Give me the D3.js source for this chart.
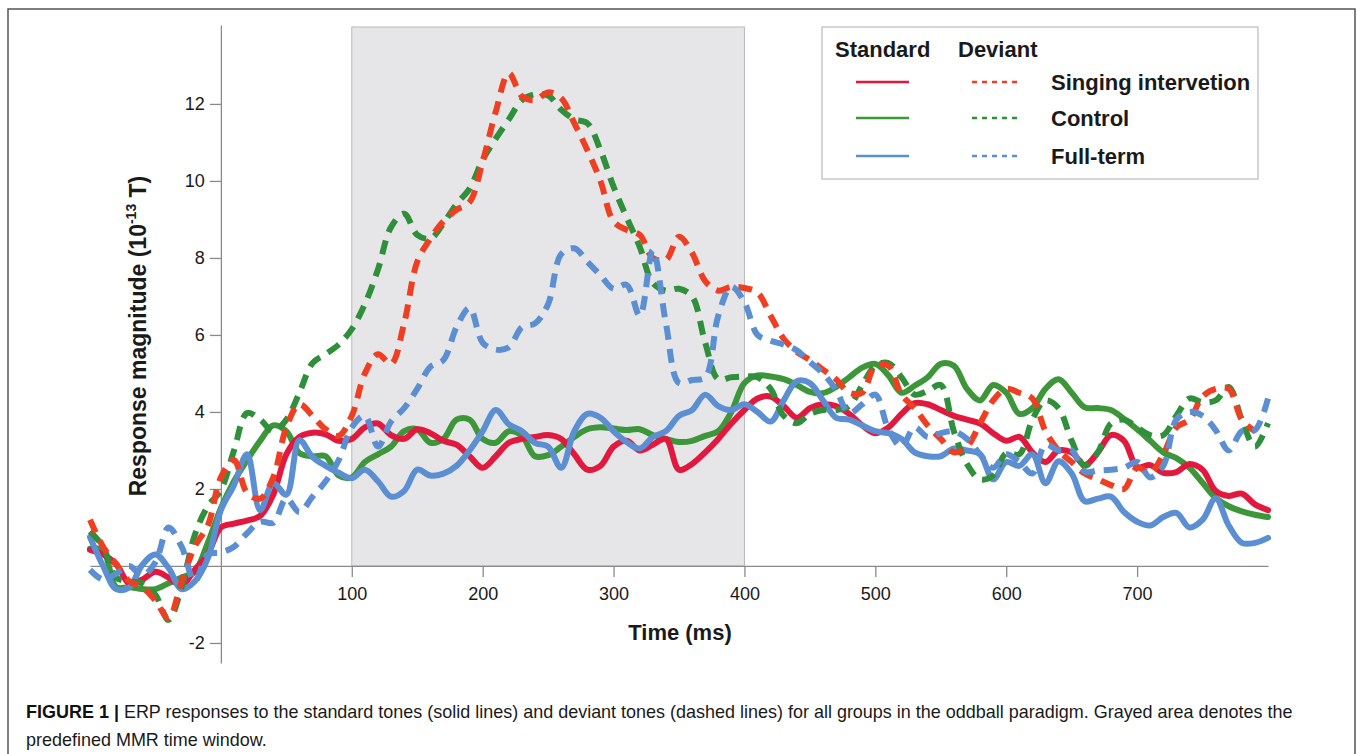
<!DOCTYPE html>
<html>
<head>
<meta charset="utf-8">
<script src="https://cdn.jsdelivr.net/npm/d3@7"></script>
<style>
  body { margin: 0; background: #fff; }
  text { font-family: Arial, "Liberation Sans", Helvetica, sans-serif; fill: #1a1a1a; }
</style>
</head>
<body>
<script>
const W = 1358, H = 754

// sample grid (ms)
const times = [-100,-90,-80,-70,-60,-50,-40,-30,-20,-10,
  0,10,20,30,40,50,60,70,80,90,
  100,110,120,130,140,150,160,170,180,190,
  200,210,220,230,240,250,260,270,280,290,
  300,310,320,330,340,350,360,370,380,390,
  400,410,420,430,440,450,460,470,480,490,
  500,510,520,530,540,550,560,570,580,590,
  600,610,620,630,640,650,660,670,680,690,
  700,710,720,730,740,750,760,770,780,790,
  800]

// standard tones (solid)
const stdSinging = [0.42,0.3,0.05,-0.45,-0.35,-0.15,-0.3,-0.5,-0.1,0.3,
  1.0,1.1,1.18,1.3,1.85,2.9,3.35,3.46,3.42,3.25,
  3.3,3.6,3.7,3.4,3.3,3.55,3.45,3.25,3.15,2.85,
  2.55,2.85,3.2,3.3,3.35,3.4,3.3,2.9,2.5,2.6,
  3.1,3.25,3.0,3.15,3.3,2.5,2.65,2.95,3.3,3.7,
  4.05,4.35,4.4,4.15,3.85,4.1,4.2,4.15,3.95,3.65,
  3.45,3.6,3.95,4.23,4.2,4.05,3.9,3.8,3.7,3.45,
  3.25,3.35,2.95,2.7,3.0,2.95,2.62,2.95,3.4,3.25,
  2.57,2.62,2.42,2.44,2.65,2.5,1.95,1.82,1.88,1.6,
  1.45]
const stdControl = [0.45,0.4,-0.55,-0.55,-0.6,-0.6,-0.45,-0.3,-0.15,0.6,
  1.5,2.2,2.75,3.25,3.65,3.5,2.93,2.85,2.85,2.35,
  2.3,2.7,2.9,3.1,3.5,3.55,3.2,3.3,3.8,3.8,
  3.3,3.2,3.5,3.38,2.85,2.88,3.1,3.35,3.55,3.6,
  3.57,3.53,3.55,3.4,3.3,3.22,3.25,3.38,3.5,4.0,
  4.75,4.95,4.92,4.85,4.7,4.52,4.49,4.65,4.9,5.15,
  5.25,4.95,4.5,4.68,4.9,5.25,5.2,4.6,4.3,4.7,
  4.5,3.95,4.1,4.6,4.85,4.5,4.12,4.1,4.05,3.82,
  3.55,3.25,2.95,2.8,2.55,2.16,1.77,1.55,1.42,1.33,
  1.27]
const stdFullTerm = [0.75,0.0,-0.6,-0.55,0.03,0.3,-0.05,-0.6,-0.4,0.2,
  1.45,2.1,2.9,1.45,2.15,1.85,3.27,2.83,2.6,2.42,
  2.28,2.5,2.2,1.8,1.95,2.5,2.35,2.4,2.6,3.0,
  3.5,4.05,3.68,3.5,3.2,3.1,2.55,3.5,3.95,3.85,
  3.5,3.22,3.05,3.35,3.5,3.9,4.05,4.45,4.15,4.05,
  4.2,4.0,3.75,4.3,4.8,4.75,4.3,3.85,3.8,3.65,
  3.5,3.45,3.3,2.95,2.85,2.85,3.05,3.0,2.9,2.25,
  2.7,2.6,2.9,2.15,2.72,2.4,1.68,1.75,1.8,1.4,
  1.15,1.05,1.27,1.38,1.0,1.2,1.75,1.05,0.6,0.6,
  0.73]

// deviant tones (dashed)
const devSinging = [1.2,0.5,0.05,-0.4,-0.55,-0.9,-1.35,-0.4,0.5,1.05,
  2.3,2.75,1.9,1.75,2.3,3.6,4.2,3.9,3.55,3.38,
  3.9,5.0,5.5,5.25,6.3,7.9,8.5,8.95,9.25,9.45,
  10.5,11.8,12.8,12.2,12.1,12.3,12.15,11.5,10.8,10.0,
  8.95,8.73,8.6,8.0,7.95,8.55,8.13,7.4,7.15,7.25,
  7.22,7.1,6.5,5.9,5.56,5.35,5.1,4.85,4.5,4.5,
  5.2,5.2,4.45,4.1,3.65,3.3,2.95,3.1,3.7,4.3,
  4.6,4.5,4.35,3.5,3.0,2.7,2.4,2.25,2.1,2.0,
  2.55,2.42,2.9,3.6,3.8,4.4,4.6,4.6,3.8,3.5,
  null]
const devControl = [0.9,0.5,-0.3,-0.4,-0.45,-0.75,-1.4,-0.55,0.8,1.55,
  1.97,3.0,3.97,3.8,3.5,3.8,4.5,5.27,5.5,5.75,
  6.15,6.8,7.7,8.8,9.15,8.6,8.5,8.9,9.4,9.8,
  10.55,11.1,11.6,12.1,12.25,12.22,11.85,11.6,11.5,10.8,
  9.85,9.05,8.29,7.35,7.15,7.2,7.0,5.8,4.85,4.9,
  4.92,4.9,4.6,3.9,3.71,3.95,4.05,4.05,4.15,4.7,
  5.2,5.27,4.9,4.45,4.55,4.7,3.5,2.65,2.25,2.35,
  2.93,2.9,3.8,4.3,4.1,3.25,2.6,2.95,3.7,3.8,
  3.6,3.4,3.4,3.9,4.35,4.25,4.3,4.65,3.8,3.1,
  3.71]
const devFullTerm = [-0.1,-0.35,-0.2,0.0,-0.25,0.1,1.0,0.5,-0.4,0.3,
  0.35,0.5,0.85,1.15,1.12,1.75,1.4,1.8,2.2,2.75,
  3.6,3.9,3.1,3.75,4.1,4.6,5.17,5.35,6.2,6.7,
  5.8,5.62,5.68,6.2,6.3,6.8,8.1,8.25,7.9,7.55,
  7.2,7.3,6.5,8.2,6.3,4.75,4.83,4.9,6.5,7.25,
  6.85,6.0,5.85,5.75,5.6,5.3,5.0,4.57,3.97,4.2,
  4.45,3.55,3.1,3.6,3.35,3.45,3.5,3.3,2.9,2.55,
  2.9,2.7,2.4,3.15,3.0,3.0,2.45,2.48,2.5,2.55,
  2.7,2.3,2.6,3.8,4.0,3.9,3.53,3.0,3.5,3.53,
  4.35]

const groups = ["Singing intervetion", "Control", "Full-term"]
const solidColors = ["#e2193f", "#3d9639", "#5b8fd1"]
const dashColors = ["#ef3f22", "#2f8f3a", "#5b8fd1"]
const xTicks = [100, 200, 300, 400, 500, 600, 700]
const yTicks = [-2, 2, 4, 6, 8, 10, 12]
const mmrWindow = [100, 400]

const svg = d3.select("body").append("svg")
    .attr("width", W)
    .attr("height", H)

// outer frame
svg.append("rect")
    .attr("x", 8).attr("y", 9)
    .attr("width", 1347).attr("height", 800)
    .attr("fill", "none")
    .attr("stroke", "#555")
    .attr("stroke-width", 1.5)

const x = d3.scaleLinear().domain([-100, 800]).range([90, 1268])
const y = d3.scaleLinear().domain([-2.52, 14.05]).range([663, 25])

// grey MMR window
svg.append("rect")
    .attr("x", x(mmrWindow[0]))
    .attr("y", 27)
    .attr("width", x(mmrWindow[1]) - x(mmrWindow[0]))
    .attr("height", y(0) - 27)
    .attr("fill", "#e6e6e8")
    .attr("stroke", "#b9b9bb")
    .attr("stroke-width", 1)

// axes
const xAxis = svg.append("g")
    .attr("transform", `translate(0,${y(0)})`)
    .call(d3.axisBottom(x).tickValues(xTicks).tickSize(11).tickSizeOuter(0).tickPadding(10))
const yAxis = svg.append("g")
    .attr("transform", `translate(${x(0)},0)`)
    .call(d3.axisLeft(y).tickValues(yTicks).tickSize(11).tickSizeOuter(0).tickPadding(5)
      .tickFormat(d => d < 0 ? "-" + Math.abs(d) : d))

;[xAxis, yAxis].forEach(g => {
  g.select(".domain").attr("stroke", "#8a8a8a").attr("stroke-width", 1.3)
  g.selectAll(".tick line").attr("stroke", "#8a8a8a").attr("stroke-width", 1.3)
  g.selectAll(".tick text")
    .attr("font-size", 18)
    .attr("font-family", "Arial, 'Liberation Sans', sans-serif")
    .attr("fill", "#1a1a1a")
})

// curves
const line = d3.line()
    .defined(d => d[1] != null)
    .x(d => x(d[0]))
    .y(d => y(d[1]))
    .curve(d3.curveCatmullRom.alpha(0.5))

// draw order: control, singing, full-term
const order = [1, 0, 2]
const solids = [stdSinging, stdControl, stdFullTerm]
const dashed = [devSinging, devControl, devFullTerm]

order.forEach(i => {
  svg.append("path")
    .attr("d", line(times.map((t, j) => [t, solids[i][j]])))
    .attr("fill", "none")
    .attr("stroke", solidColors[i])
    .attr("stroke-width", 6)
    .attr("stroke-linejoin", "round")
    .attr("stroke-linecap", "round")
})
order.forEach(i => {
  svg.append("path")
    .attr("d", line(times.map((t, j) => [t, dashed[i][j]])))
    .attr("fill", "none")
    .attr("stroke", dashColors[i])
    .attr("stroke-width", 6)
    .attr("stroke-dasharray", "14,9")
})

// axis titles
svg.append("text")
    .attr("x", 680).attr("y", 640)
    .attr("text-anchor", "middle")
    .attr("font-size", 22)
    .attr("font-weight", "bold")
    .text("Time (ms)")

const yt = svg.append("text")
    .attr("transform", "translate(146,336) rotate(-90)")
    .attr("text-anchor", "middle")
    .attr("font-size", 23)
    .attr("font-weight", "bold")
yt.append("tspan").text("Response magnitude (10")
yt.append("tspan").attr("dy", -10).attr("font-size", 14).text("-13")
yt.append("tspan").attr("dy", 10).text("  T)")

// legend
const lg = svg.append("g")
lg.append("rect")
    .attr("x", 822).attr("y", 27)
    .attr("width", 436).attr("height", 152)
    .attr("fill", "#fff")
    .attr("stroke", "#c8c8c8")
    .attr("stroke-width", 1.5)
lg.append("text").attr("x", 835).attr("y", 57)
    .attr("font-size", 22).attr("font-weight", "bold").text("Standard")
lg.append("text").attr("x", 958).attr("y", 57)
    .attr("font-size", 22).attr("font-weight", "bold").text("Deviant")
const rowY = [82, 118, 156]
groups.forEach((g, i) => {
  lg.append("line")
    .attr("x1", 856).attr("x2", 909)
    .attr("y1", rowY[i]).attr("y2", rowY[i])
    .attr("stroke", solidColors[i]).attr("stroke-width", 2.5)
  lg.append("line")
    .attr("x1", 972).attr("x2", 1022)
    .attr("y1", rowY[i]).attr("y2", rowY[i])
    .attr("stroke", dashColors[i]).attr("stroke-width", 2.5)
    .attr("stroke-dasharray", "5,5")
  lg.append("text")
    .attr("x", 1051).attr("y", rowY[i] + 8)
    .attr("font-size", 22).attr("font-weight", "bold")
    .text(g)
})

// caption, squeezed horizontally like a condensed face
const c1 = svg.append("text")
    .attr("font-size", 17.5)
    .attr("fill", "#222")
c1.append("tspan").attr("font-weight", "bold").attr("fill", "#111").text("FIGURE 1 | ")
c1.append("tspan").text("ERP responses to the standard tones (solid lines) and deviant tones (dashed lines) for all groups in the oddball paradigm. Grayed area denotes the")
const c2 = svg.append("text")
    .attr("font-size", 17.5)
    .attr("fill", "#222")
    .text("predefined MMR time window.")

const k = 1267 / c1.node().getComputedTextLength()
c1.attr("transform", `translate(26,718) scale(${k},1)`)
c2.attr("transform", `translate(26,746) scale(${k},1)`)
</script>
</body>
</html>
